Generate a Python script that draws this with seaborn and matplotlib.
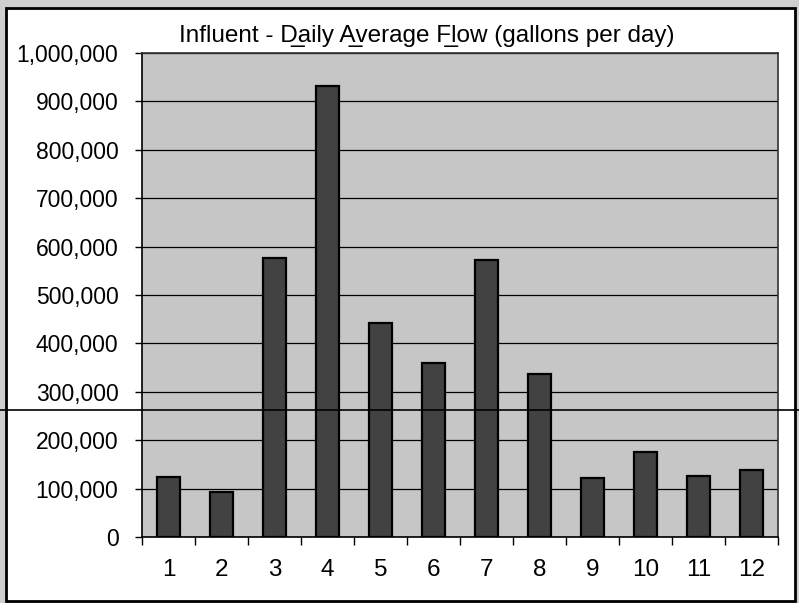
import matplotlib
matplotlib.use("Agg")
import matplotlib.pyplot as plt
import matplotlib.ticker as mticker
from matplotlib.patches import Rectangle
from matplotlib.lines import Line2D
import seaborn as sns
import pandas as pd

months = ["1", "2", "3", "4", "5", "6", "7", "8", "9", "10", "11", "12"]
flow = [124000, 93000, 577000, 932000, 443000, 359000, 573000, 336000, 122000, 175000, 126000, 138000]
y_ticks = [0, 100000, 200000, 300000, 400000, 500000, 600000, 700000, 800000, 900000, 1000000]
title = "Influent - D\u0332aily A\u0332verage F\u0332low (gallons per day)"

sns.set_theme(style="white")
plt.rcParams['font.family'] = ['Liberation Sans', 'DejaVu Sans']

W, H = 799, 603
fig = plt.figure(figsize=(W / 100, H / 100), dpi=100, facecolor="#cfcfcf")
# white chart area with black frame
fig.add_artist(Rectangle((6 / W, 1 - 601 / H), (795 - 6) / W, (601 - 8) / H,
                         transform=fig.transFigure, facecolor="white",
                         edgecolor="black", linewidth=2.0, zorder=0))

ax = fig.add_axes([142 / W, 1 - 537 / H, (778 - 142) / W, (537 - 53) / H])
ax.set_facecolor("#c6c6c6")

df = pd.DataFrame({"Month": months, "Flow": flow})
sns.barplot(data=df, x="Month", y="Flow", color="#424242", saturation=1,
            width=0.43, edgecolor="black", linewidth=1.6, ax=ax, zorder=3)

ax.set_ylim(0, 1000000)
ax.set_xlim(-0.5, len(months) - 0.5)
ax.set_yticks(y_ticks)
ax.yaxis.set_major_formatter(mticker.FuncFormatter(lambda v, p: f"{int(v):,}"))
ax.grid(axis="y", color="black", linewidth=0.9, zorder=1)
ax.set_axisbelow(True)
ax.set_xlabel("")
ax.set_ylabel("")

# x ticks: labels centered, tick marks between categories
ax.set_xticks(range(len(months)))
ax.set_xticklabels(months)
ax.set_xticks([i - 0.5 for i in range(len(months) + 1)], minor=True)
ax.tick_params(axis="x", which="major", length=0, pad=16, labelsize=17.5, colors="black")
ax.tick_params(axis="x", which="minor", length=6, width=1, color="black", direction="out", bottom=True)
ax.tick_params(axis="y", which="major", length=5, width=1, color="black", pad=12,
               labelsize=16.5, left=True, labelcolor="black")

for s in ["left", "bottom"]:
    ax.spines[s].set_visible(True)
    ax.spines[s].set_color("black")
    ax.spines[s].set_linewidth(1.2)
for s in ["top", "right"]:
    ax.spines[s].set_visible(True)
    ax.spines[s].set_color("#333333")
    ax.spines[s].set_linewidth(1.2)

fig.text(427 / W, 1 - 36 / H, title, ha="center", va="center", fontsize=17.5, color="black")

# stray horizontal scan line
fig.add_artist(Line2D([0, 1], [1 - 410 / H, 1 - 410 / H], transform=fig.transFigure,
                      color="black", linewidth=1.2, zorder=10))

fig.savefig("out.png", dpi=100, facecolor=fig.get_facecolor())
